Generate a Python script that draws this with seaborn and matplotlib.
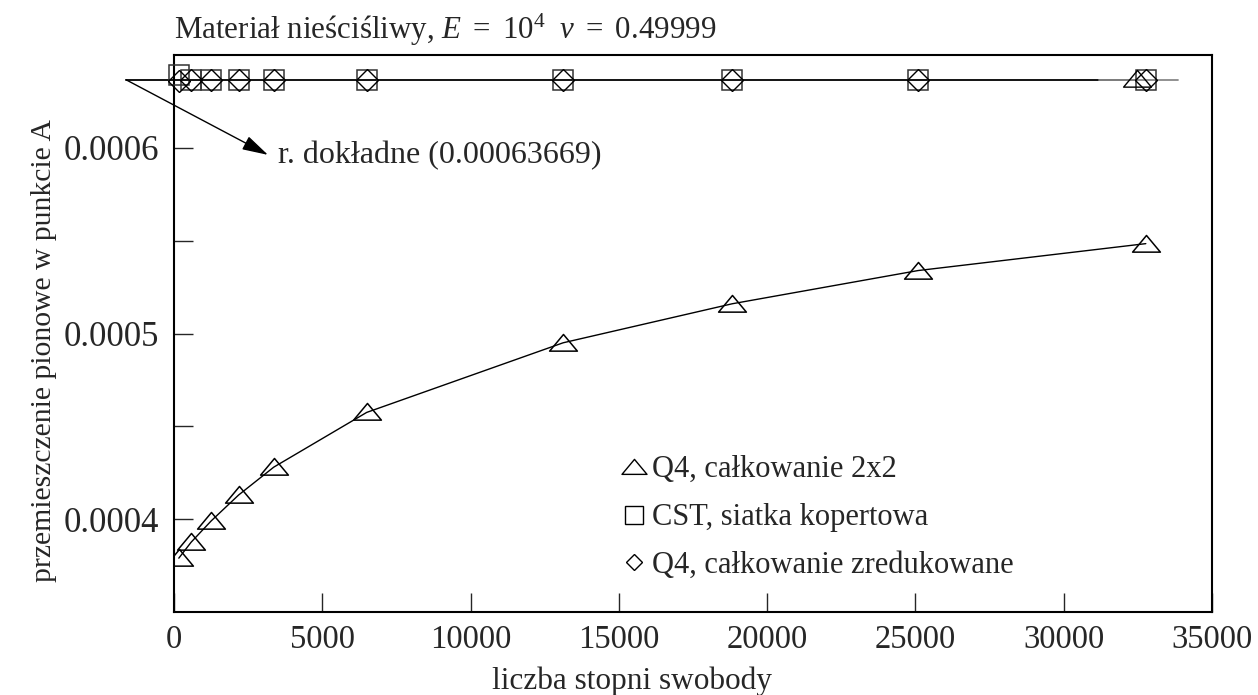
import numpy as np
import pandas as pd
import matplotlib
matplotlib.use("Agg")
import matplotlib.pyplot as plt
from matplotlib.path import Path
from matplotlib.lines import Line2D
import seaborn as sns

# ---- data ----
dof = [162, 578, 1250, 2178, 3362, 6498, 13122, 18818, 25088, 32768]
q4_full = [0.000379, 0.0003876, 0.000399, 0.000413, 0.000428, 0.0004575,
           0.000495, 0.0005160, 0.0005339, 0.0005484]
cst_env = [0.0006392, 0.0006367, 0.0006367, 0.0006367, 0.0006367, 0.0006367,
           0.0006367, 0.0006367, 0.0006367, 0.0006367]
q4_red = [0.0006360, 0.0006366, 0.0006367, 0.0006367, 0.0006367, 0.0006367,
          0.0006367, 0.0006367, 0.0006367, 0.0006367]
exact = 0.00063669
exact_x = [-1620, 32470]
exact_tail_x = [31200, 33850]
stray_tri_x = [32470]
stray_tri_y = [0.0006373]
arrow_tip = (3170, 0.0005962)
note_pos = (3500, 0.0005957)

labels = ["Q4, całkowanie 2x2", "CST, siatka kopertowa", "Q4, całkowanie zredukowane"]
xticks = [0, 5000, 10000, 15000, 20000, 25000, 30000, 35000]
yticks = [0.0004, 0.0005, 0.0006]
yticklabels = ["0.0004", "0.0005", "0.0006"]
yminor = [0.00045, 0.00055]

sns.set_style("ticks")
plt.rcParams['font.family'] = ['Liberation Serif', 'DejaVu Serif']
plt.rcParams['mathtext.fontset'] = 'custom'
plt.rcParams['mathtext.rm'] = 'Liberation Serif'
plt.rcParams['mathtext.it'] = 'Liberation Serif:italic'

tri = Path([(-1.0, -0.55), (1.0, -0.55), (0.0, 0.65), (-1.0, -0.55)],
           [Path.MOVETO, Path.LINETO, Path.LINETO, Path.CLOSEPOLY])

fig = plt.figure(figsize=(12.58, 6.95), dpi=100)
ax = fig.add_axes([174/1258, 1-612/695, (1212-174)/1258, (612-55)/695])

df = pd.DataFrame({"dof": dof, "q4": q4_full, "cst": cst_env, "red": q4_red})

# exact solution line
ax.plot(exact_x, [exact, exact], color='black', lw=1.3, clip_on=False, zorder=2)
ax.plot(exact_tail_x, [exact, exact], color='#888888', lw=1.3, clip_on=False, zorder=2)

sns.lineplot(data=df, x="dof", y="q4", ax=ax, color='black', lw=1.0,
             marker=tri, markersize=20, mfc='none', mec='black', mew=1.1,
             legend=False, zorder=3)
sns.lineplot(data=df, x="dof", y="cst", ax=ax, color='black', linestyle='',
             marker='s', markersize=15, mfc='none', mec='#333333', mew=1.1,
             legend=False, zorder=3, clip_on=False)
sns.lineplot(data=df, x="dof", y="red", ax=ax, color='black', linestyle='',
             marker='D', markersize=11, mfc='none', mec='black', mew=1.0,
             legend=False, zorder=3, clip_on=False)
ax.plot(stray_tri_x, stray_tri_y, linestyle='', marker=tri, markersize=20,
        mfc='none', mec='black', mew=1.0, zorder=3)

ax.set_xlim(0, 35000)
ax.set_ylim(0.00035, 0.00065)
ax.set_xticks(xticks)
ax.set_xticklabels([str(t) for t in xticks])
ax.set_yticks(yticks)
ax.set_yticklabels(yticklabels)
ax.set_yticks(yminor, minor=True)
ax.tick_params(axis='both', which='both', direction='in', length=14, width=1.0,
               top=False, right=False)
ax.tick_params(axis='y', labelsize=25, pad=11)
ax.tick_params(axis='x', labelsize=23.5, pad=9)
for s in ax.spines.values():
    s.set_linewidth(1.5)
    s.set_color('black')
    s.set_visible(True)

ax.set_xlabel("liczba stopni swobody", fontsize=22.5)
ax.xaxis.set_label_coords(0.441, -0.097)
ax.set_ylabel("przemieszczenie pionowe w punkcie A", fontsize=21.3)
ax.yaxis.set_label_coords(-0.113, 0.469)

fig.text(174/1258, 1-30/695, r"Materiał nieściśliwy, $E\ =\ 10^4\ \ \nu\ =\ 0.49999$",
         fontsize=22.3, ha='left', va='center')

ax.annotate("", xy=arrow_tip, xytext=(exact_x[0], exact), annotation_clip=False,
            arrowprops=dict(arrowstyle='-|>,head_length=1.6,head_width=0.45',
                            mutation_scale=10, color='black', lw=1.0,
                            shrinkA=0, shrinkB=0))
ax.text(note_pos[0], note_pos[1], "r. dokładne (0.00063669)", fontsize=23,
        ha='left', va='center')

handles = [
    Line2D([], [], linestyle='', marker=tri, markersize=18, mfc='none', mec='black', mew=1.0),
    Line2D([], [], linestyle='', marker='s', markersize=13, mfc='none', mec='black', mew=1.0),
    Line2D([], [], linestyle='', marker='D', markersize=8, mfc='none', mec='black', mew=1.0),
]
ax.legend(handles, labels, loc='upper left', bbox_to_anchor=((606-174)/1038, (612-440)/557),
          frameon=False, fontsize=22, handlelength=0.8, handletextpad=0.2,
          labelspacing=0.62, borderpad=0)

fig.savefig("out.png", dpi=100)
